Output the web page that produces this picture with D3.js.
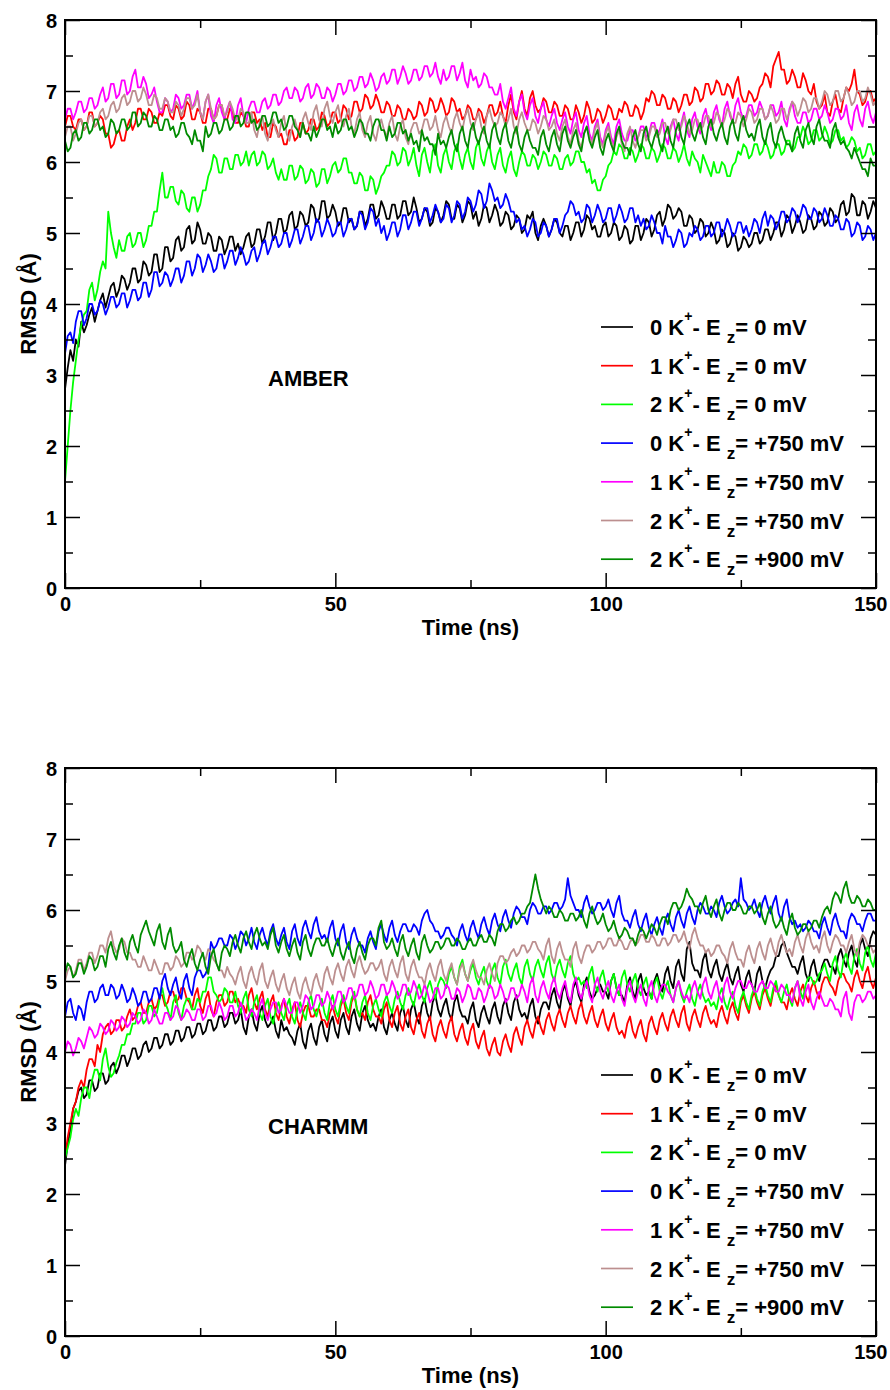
<!DOCTYPE html>
<html>
<head>
<meta charset="utf-8">
<script src="https://cdnjs.cloudflare.com/ajax/libs/d3/7.8.5/d3.min.js"></script>
<style>
body { margin: 0; background: #fff; }
text { font-family: "Liberation Sans", Arial, sans-serif; font-weight: bold; fill: #000; }
</style>
</head>
<body>
<div id="chart"></div>
<script>

// sampling grid (ns, one frame every 0.5 ns) and axis ticks
var timeNs = d3.range(0, 150.5, 0.5);
var xMajor = [0, 50, 100, 150];
var xMinor = [25, 75, 125];
var yMajor = [0, 1, 2, 3, 4, 5, 6, 7, 8];
var yMinor = [0.5, 1.5, 2.5, 3.5, 4.5, 5.5, 6.5, 7.5];

// legend
var ions   = ["0", "1", "2", "0", "1", "2", "2"];
var fields = ["0 mV", "0 mV", "0 mV", "+750 mV", "+750 mV", "+750 mV", "+900 mV"];
var colors = ["#000000", "#ff0000", "#00ff00", "#0000ff", "#ff00ff", "#bc8f8f", "#008b00"];

// ---- AMBER, RMSD (A), one row = 10 ns ----
var amber0K0 = [2.8,3.1,3.35,3.2,3.5,3.4,3.75,3.6,3.7,3.85,3.95,3.75,3.9,4.05,4.15,3.95,4.1,4.25,4.3,4.1,
 4.2,4.4,4.35,4.2,4.3,4.5,4.5,4.3,4.35,4.6,4.55,4.4,4.45,4.7,4.7,4.45,4.5,4.8,4.8,4.6,
 4.65,4.9,4.95,4.75,4.8,5.05,5.1,4.85,4.9,5.15,5.05,4.85,4.85,5.0,4.95,4.75,4.75,4.95,4.9,4.7,
 4.8,4.95,4.95,4.75,4.85,4.7,4.8,4.95,5.0,4.8,4.85,5.05,5.05,4.85,4.95,5.15,5.15,4.9,5.0,5.2,
 5.2,5.0,5.05,5.25,5.3,5.05,5.1,5.3,5.25,5.1,5.15,5.4,5.35,5.15,5.2,5.45,5.45,5.2,5.25,5.4,
 5.3,5.1,5.15,5.35,5.35,5.15,5.2,5.05,5.1,5.3,5.3,5.1,5.2,5.4,5.4,5.2,5.25,5.45,5.35,5.2,
 5.2,5.4,5.4,5.2,5.25,5.45,5.45,5.25,5.3,5.5,5.35,5.15,5.2,5.35,5.3,5.1,5.15,5.35,5.3,5.15,
 5.25,5.45,5.4,5.2,5.2,5.4,5.35,5.15,5.25,5.45,5.4,5.2,5.3,5.1,5.2,5.4,5.35,5.15,5.25,5.4,
 5.3,5.1,5.15,5.3,5.25,5.05,5.1,5.25,5.2,5.0,5.05,5.25,5.2,5.3,5.0,4.9,5.1,5.2,5.1,4.95,
 5.05,5.2,5.15,5.0,4.95,5.1,5.1,4.9,5.0,5.15,5.15,4.95,5.05,5.25,5.2,5.05,5.1,4.95,4.95,5.1,
 5.15,4.95,5.0,5.15,5.1,4.9,4.95,5.1,5.05,4.85,4.9,5.1,5.1,4.9,5.0,5.2,5.15,4.95,5.05,5.25,
 5.3,5.1,5.2,5.4,5.35,5.2,5.25,5.35,5.3,5.1,5.1,5.25,5.2,5.0,5.05,5.2,5.15,4.95,5.0,5.15,
 5.05,4.85,4.9,5.05,5.0,4.8,4.85,5.0,4.95,4.75,4.8,4.95,4.9,4.8,4.85,5.0,5.0,4.85,4.9,5.05,
 5.05,4.9,5.0,5.15,5.15,4.95,5.05,5.25,5.2,5.0,5.1,5.25,5.15,5.0,5.05,5.25,5.2,5.05,5.1,5.3,
 5.25,5.1,5.15,5.35,5.3,5.15,5.2,5.4,5.45,5.25,5.3,5.55,5.5,5.25,5.25,5.45,5.4,5.2,5.3,5.45,5.35];
var amber1K0 = [6.5,6.65,6.65,6.5,6.45,6.6,6.6,6.45,6.5,6.7,6.7,6.5,6.55,6.65,6.6,6.4,6.4,6.2,6.25,6.4,
 6.45,6.3,6.3,6.5,6.6,6.45,6.55,6.75,6.75,6.6,6.6,6.75,6.7,6.55,6.55,6.7,6.65,6.8,6.8,6.65,
 6.6,6.8,6.75,6.6,6.65,6.85,6.8,6.6,6.6,6.75,6.7,6.55,6.55,6.75,6.75,6.6,6.65,6.8,6.8,6.6,
 6.6,6.75,6.7,6.55,6.55,6.7,6.65,6.5,6.5,6.7,6.7,6.55,6.6,6.45,6.55,6.35,6.35,6.55,6.5,6.35,
 6.4,6.25,6.25,6.45,6.45,6.3,6.35,6.55,6.55,6.4,6.45,6.6,6.6,6.45,6.5,6.7,6.65,6.5,6.55,6.7,
 6.7,6.55,6.6,6.8,6.75,6.6,6.65,6.85,6.85,6.7,6.75,6.95,6.9,6.75,6.8,6.95,6.85,6.7,6.7,6.85,
 6.8,6.65,6.65,6.8,6.75,6.6,6.6,6.75,6.7,6.6,6.65,6.85,6.8,6.65,6.7,6.9,6.85,6.7,6.75,6.9,
 6.8,6.65,6.7,6.9,6.85,6.7,6.75,6.6,6.65,6.8,6.75,6.6,6.6,6.75,6.7,6.55,6.65,6.8,6.8,6.65,
 6.7,6.85,6.65,6.55,6.8,6.95,6.7,6.6,6.85,7.0,6.75,6.65,6.9,7.0,6.8,6.7,6.75,6.9,6.85,6.7,
 6.7,6.85,6.8,6.65,6.65,6.8,6.75,6.6,6.6,6.8,6.7,6.55,6.65,6.85,6.75,6.55,6.6,6.75,6.7,6.55,
 6.65,6.8,6.75,6.6,6.6,6.75,6.7,6.85,6.8,6.65,6.65,6.8,6.75,6.6,6.7,6.9,6.85,7.0,6.95,6.8,
 6.8,6.95,6.9,6.75,6.75,6.9,6.85,6.7,6.8,6.95,6.95,6.8,6.85,7.05,7.0,6.85,6.9,7.1,7.1,6.95,
 7.0,7.15,7.1,6.95,6.95,7.1,7.05,6.9,7.1,7.2,6.95,6.85,6.85,7.0,6.95,6.85,6.9,7.05,7.1,7.25,
 7.2,7.05,7.35,7.45,7.55,7.3,7.3,7.1,7.15,7.3,7.2,7.05,7.05,7.25,7.15,7.0,6.95,7.1,6.85,6.75,
 6.8,6.95,6.7,6.65,6.85,6.95,6.75,6.7,6.9,7.05,7.0,7.1,7.3,7.0,6.95,6.8,6.85,7.0,7.0,6.85,6.9];
var amber2K0 = [1.5,2.0,2.5,2.9,3.2,3.5,3.7,3.85,3.9,4.2,4.3,4.05,4.2,4.45,4.6,4.5,5.3,5.0,4.8,4.65,
 4.9,4.75,4.75,4.95,5.0,4.8,4.85,5.0,5.0,4.8,4.9,5.1,5.1,5.3,5.3,5.6,5.85,5.5,5.5,5.65,
 5.65,5.45,5.4,5.6,5.55,5.35,5.3,5.5,5.5,5.3,5.4,5.6,5.6,5.8,5.9,6.1,6.05,5.85,5.85,6.05,
 6.05,5.9,5.9,6.1,6.1,5.95,6.0,6.15,5.95,6.1,6.15,5.95,6.0,6.15,6.1,5.9,5.95,6.05,5.85,5.75,
 5.9,5.75,5.75,5.95,5.95,5.75,5.8,5.95,5.9,5.7,5.75,5.9,5.85,5.65,5.7,5.9,5.9,5.7,5.8,5.95,
 6.0,5.85,5.9,6.05,6.05,5.85,5.85,5.7,5.7,5.85,5.8,5.6,5.6,5.8,5.75,5.55,5.65,5.8,5.85,5.95,
 5.95,6.15,6.1,5.95,6.0,6.2,6.15,5.95,6.05,6.2,5.95,5.8,6.1,6.2,6.0,5.85,6.15,6.25,5.95,5.85,
 6.1,6.2,6.0,5.9,6.15,6.25,6.05,5.9,6.1,6.2,6.0,5.9,6.2,6.3,6.05,5.95,6.15,6.25,6.0,5.9,
 6.1,6.2,5.95,5.85,6.05,6.15,5.9,5.8,6.0,6.15,6.1,5.95,5.95,6.1,6.05,5.9,6.0,6.15,6.1,5.95,
 5.95,6.1,6.05,5.9,5.9,6.05,6.1,5.95,6.0,6.15,6.15,6.0,6.0,5.85,5.9,5.7,5.75,5.6,5.6,5.75,
 5.8,5.95,6.0,6.15,6.1,6.25,6.2,6.05,6.05,6.2,6.15,6.0,6.1,6.25,6.2,6.05,6.05,6.2,6.15,6.0,
 6.1,6.25,6.2,6.05,6.05,6.2,6.15,6.0,6.1,6.25,6.05,5.95,6.15,6.05,6.0,5.85,6.1,6.0,5.9,5.8,
 6.0,5.85,5.85,6.0,5.95,5.8,5.8,5.95,6.0,6.15,6.1,6.25,6.2,6.05,6.1,6.25,6.25,6.1,6.15,6.3,
 6.2,6.05,6.1,6.25,6.25,6.1,6.15,6.3,6.3,6.15,6.2,6.35,6.35,6.5,6.4,6.25,6.3,6.45,6.45,6.3,
 6.35,6.5,6.4,6.25,6.3,6.45,6.45,6.3,6.35,6.2,6.25,6.35,6.3,6.15,6.2,6.05,6.1,6.25,6.25,6.1,6.15];
var amber0K750 = [3.3,3.55,3.6,3.45,3.75,3.9,3.9,3.7,3.8,4.0,4.0,3.85,3.9,4.05,4.0,3.85,3.95,4.1,4.1,3.95,
 4.0,4.15,4.15,3.95,4.05,4.2,4.2,4.05,4.1,4.3,4.3,4.1,4.2,4.45,4.45,4.25,4.3,4.45,4.4,4.25,
 4.35,4.5,4.5,4.3,4.4,4.6,4.6,4.4,4.5,4.7,4.65,4.45,4.55,4.7,4.6,4.45,4.5,4.7,4.7,4.5,
 4.6,4.75,4.75,4.55,4.65,4.8,4.7,4.55,4.6,4.75,4.8,4.6,4.7,4.85,4.9,4.7,4.8,4.95,4.95,4.8,
 4.85,5.0,5.0,4.8,4.9,5.05,5.05,4.85,4.95,5.1,5.1,4.9,5.0,5.2,5.15,4.95,5.05,5.2,5.1,4.95,
 5.0,5.15,5.15,4.95,5.05,5.2,5.2,5.05,5.1,5.3,5.25,5.05,5.15,5.35,5.3,5.1,5.2,5.0,5.1,4.9,
 5.0,5.15,5.15,4.95,5.05,5.25,5.25,5.05,5.15,5.3,5.3,5.1,5.2,5.35,5.35,5.15,5.25,5.4,5.3,5.15,
 5.2,5.4,5.35,5.15,5.25,5.45,5.4,5.2,5.3,5.5,5.45,5.3,5.4,5.6,5.55,5.35,5.45,5.7,5.6,5.45,
 5.5,5.35,5.4,5.55,5.45,5.3,5.3,5.15,5.2,5.05,5.1,4.95,5.05,5.2,5.15,4.95,5.0,5.15,5.1,4.95,
 5.05,5.2,5.2,5.0,5.1,5.25,5.3,5.45,5.4,5.25,5.3,5.15,5.2,5.4,5.35,5.15,5.25,5.4,5.3,5.15,
 5.2,5.35,5.35,5.15,5.25,5.4,5.3,5.15,5.2,5.35,5.35,5.15,5.25,5.1,5.2,5.05,5.1,5.25,5.15,5.0,
 5.0,4.85,5.1,4.95,4.95,4.8,4.9,5.05,5.0,4.8,4.85,5.0,4.95,5.1,5.05,4.9,4.95,5.1,5.1,4.95,
 5.0,5.15,5.15,4.95,5.05,5.2,5.1,4.95,5.0,5.15,5.15,5.0,5.1,4.95,5.05,5.2,5.15,5.0,5.2,5.3,
 5.1,5.25,5.2,5.05,5.15,5.3,5.3,5.15,5.2,5.35,5.3,5.15,5.25,5.4,5.35,5.2,5.2,5.35,5.3,5.15,
 5.2,5.35,5.25,5.1,5.1,5.25,5.2,5.05,5.05,5.2,5.15,4.95,5.0,5.15,5.1,4.9,4.95,5.1,5.05,4.9,5.0];
var amber1K750 = [6.6,6.75,6.75,6.6,6.7,6.85,6.85,6.7,6.75,6.9,6.9,6.75,6.8,6.95,7.05,6.85,6.9,7.1,7.1,6.9,
 6.95,7.15,7.15,6.95,7.0,7.2,7.3,7.05,7.05,7.2,7.1,6.9,6.95,7.05,6.85,6.7,6.7,6.9,6.85,6.7,
 6.75,6.95,6.9,6.75,6.8,6.95,6.95,6.75,6.85,7.0,6.7,6.6,6.85,6.95,6.65,6.55,6.8,6.9,6.7,6.6,
 6.75,6.85,6.6,6.55,6.8,6.9,6.65,6.55,6.75,6.85,6.85,6.7,6.7,6.85,6.9,6.75,6.8,6.95,6.95,6.8,
 6.85,7.0,7.05,6.9,6.9,7.05,7.0,6.85,6.9,7.05,7.1,6.9,6.95,7.1,7.05,6.9,6.9,7.05,7.0,6.85,
 6.95,7.1,7.1,6.95,7.0,7.15,7.15,7.0,7.05,7.2,7.2,7.05,7.1,7.25,7.15,7.0,7.05,7.2,7.25,7.1,
 7.15,7.3,7.3,7.1,7.2,7.35,7.25,7.1,7.15,7.3,7.3,7.15,7.2,7.35,7.35,7.2,7.25,7.4,7.2,7.1,
 7.3,7.15,7.2,7.35,7.35,7.15,7.25,7.4,7.15,7.05,7.3,7.15,7.2,7.05,7.1,7.25,7.2,7.05,7.05,6.95,
 6.95,7.1,6.85,6.75,6.9,7.05,6.75,6.65,6.85,6.95,6.7,6.6,6.8,6.9,6.65,6.55,6.75,6.85,6.6,6.5,
 6.65,6.75,6.55,6.45,6.6,6.7,6.5,6.4,6.6,6.7,6.45,6.35,6.55,6.65,6.4,6.3,6.5,6.6,6.35,6.25,
 6.45,6.55,6.35,6.25,6.5,6.6,6.4,6.3,6.3,6.45,6.45,6.3,6.35,6.5,6.5,6.35,6.4,6.55,6.55,6.4,
 6.45,6.6,6.35,6.25,6.5,6.6,6.4,6.3,6.55,6.7,6.45,6.35,6.6,6.7,6.5,6.4,6.65,6.75,6.55,6.45,
 6.7,6.8,6.6,6.5,6.75,6.85,6.65,6.55,6.8,6.9,6.7,6.6,6.65,6.8,6.8,6.65,6.7,6.85,6.75,6.6,
 6.65,6.8,6.8,6.65,6.7,6.85,6.6,6.5,6.75,6.85,6.65,6.55,6.55,6.7,6.7,6.55,6.6,6.75,6.75,6.6,
 6.65,6.8,6.7,6.55,6.6,6.75,6.75,6.6,6.65,6.8,6.55,6.45,6.7,6.8,6.6,6.5,6.75,6.85,6.65,6.55,6.7];
var amber2K750 = [6.35,6.5,6.5,6.3,6.4,6.55,6.6,6.45,6.5,6.65,6.65,6.5,6.55,6.7,6.75,6.6,6.65,6.8,6.85,6.7,
 6.75,6.9,6.95,6.8,6.85,7.0,7.0,6.85,6.9,7.05,6.95,6.8,6.8,6.95,6.9,6.75,6.75,6.9,6.85,6.7,
 6.7,6.85,6.8,6.65,6.75,6.9,6.9,6.75,6.8,6.95,6.7,6.6,6.85,6.95,6.75,6.6,6.65,6.8,6.8,6.65,
 6.7,6.85,6.75,6.6,6.6,6.75,6.7,6.55,6.55,6.7,6.45,6.35,6.55,6.65,6.4,6.3,6.5,6.6,6.45,6.35,
 6.55,6.65,6.4,6.3,6.5,6.6,6.45,6.35,6.6,6.7,6.55,6.45,6.7,6.8,6.6,6.5,6.75,6.85,6.65,6.55,
 6.7,6.8,6.6,6.5,6.65,6.75,6.5,6.4,6.6,6.7,6.45,6.35,6.55,6.65,6.4,6.3,6.5,6.6,6.45,6.35,
 6.55,6.65,6.4,6.3,6.5,6.6,6.35,6.25,6.45,6.55,6.55,6.4,6.45,6.6,6.6,6.45,6.5,6.65,6.45,6.35,
 6.55,6.65,6.5,6.4,6.6,6.7,6.55,6.45,6.65,6.75,6.55,6.45,6.6,6.7,6.5,6.4,6.65,6.75,6.6,6.5,
 6.55,6.7,6.65,6.5,6.6,6.75,6.5,6.4,6.6,6.7,6.55,6.45,6.45,6.6,6.55,6.4,6.5,6.65,6.6,6.45,
 6.5,6.6,6.4,6.3,6.5,6.6,6.35,6.25,6.45,6.55,6.3,6.2,6.4,6.5,6.35,6.25,6.45,6.55,6.3,6.2,
 6.4,6.5,6.3,6.2,6.35,6.45,6.25,6.15,6.4,6.5,6.3,6.2,6.35,6.45,6.45,6.3,6.35,6.5,6.5,6.35,
 6.4,6.55,6.55,6.4,6.45,6.6,6.6,6.45,6.5,6.65,6.55,6.4,6.45,6.6,6.6,6.45,6.5,6.65,6.65,6.5,
 6.55,6.7,6.65,6.5,6.6,6.75,6.7,6.55,6.55,6.7,6.65,6.5,6.6,6.75,6.7,6.55,6.6,6.75,6.75,6.6,
 6.65,6.8,6.7,6.55,6.6,6.75,6.75,6.6,6.7,6.85,6.8,6.65,6.75,6.9,6.85,6.7,6.75,6.9,6.9,6.75,
 6.85,7.0,6.95,6.8,6.85,7.0,7.0,6.85,6.9,7.05,6.95,6.8,6.85,7.0,7.0,6.85,6.9,7.05,6.95,6.8,6.85];
var amber2K900 = [6.3,6.15,6.2,6.4,6.45,6.3,6.35,6.55,6.55,6.4,6.45,6.6,6.6,6.45,6.5,6.35,6.4,6.6,6.55,6.4,
 6.45,6.6,6.6,6.45,6.5,6.7,6.7,6.5,6.55,6.7,6.65,6.5,6.5,6.65,6.6,6.45,6.45,6.6,6.6,6.45,
 6.5,6.35,6.4,6.55,6.55,6.4,6.35,6.25,6.45,6.3,6.3,6.15,6.5,6.35,6.4,6.55,6.55,6.4,6.45,6.6,
 6.6,6.45,6.5,6.65,6.65,6.5,6.55,6.7,6.7,6.55,6.6,6.45,6.5,6.65,6.65,6.5,6.55,6.7,6.7,6.55,
 6.6,6.45,6.5,6.65,6.65,6.5,6.45,6.35,6.55,6.4,6.4,6.3,6.5,6.35,6.45,6.6,6.6,6.45,6.5,6.35,
 6.55,6.4,6.45,6.6,6.6,6.45,6.5,6.35,6.45,6.6,6.55,6.4,6.4,6.3,6.5,6.6,6.6,6.45,6.45,6.3,
 6.5,6.35,6.4,6.55,6.55,6.4,6.45,6.3,6.4,6.25,6.3,6.15,6.45,6.3,6.35,6.25,6.25,6.1,6.4,6.25,
 6.3,6.2,6.35,6.45,6.25,6.15,6.4,6.5,6.3,6.2,6.45,6.55,6.35,6.25,6.4,6.5,6.3,6.2,6.45,6.55,
 6.35,6.25,6.45,6.55,6.3,6.2,6.4,6.5,6.25,6.15,6.35,6.45,6.3,6.2,6.2,6.1,6.35,6.45,6.25,6.15,
 6.35,6.45,6.25,6.15,6.4,6.5,6.3,6.2,6.35,6.45,6.25,6.15,6.4,6.5,6.3,6.2,6.35,6.45,6.2,6.1,
 6.3,6.4,6.25,6.15,6.4,6.5,6.3,6.2,6.2,6.1,6.35,6.45,6.25,6.15,6.4,6.5,6.3,6.2,6.35,6.45,
 6.25,6.15,6.4,6.5,6.3,6.2,6.45,6.55,6.35,6.25,6.5,6.6,6.4,6.3,6.45,6.55,6.35,6.25,6.5,6.6,
 6.4,6.3,6.45,6.55,6.35,6.25,6.5,6.6,6.4,6.3,6.55,6.65,6.45,6.35,6.4,6.3,6.5,6.6,6.35,6.25,
 6.45,6.55,6.3,6.2,6.4,6.5,6.35,6.25,6.25,6.15,6.4,6.5,6.3,6.2,6.45,6.55,6.35,6.25,6.5,6.6,
 6.4,6.3,6.3,6.2,6.45,6.55,6.35,6.25,6.3,6.2,6.15,6.05,6.2,6.1,6.0,5.9,5.9,5.8,6.05,5.95,5.95];

// ---- CHARMM, RMSD (A), one row = 10 ns ----
var charmm0K0 = [2.4,2.7,2.9,3.2,3.3,3.45,3.5,3.35,3.4,3.6,3.6,3.45,3.5,3.7,3.7,3.55,3.6,3.8,3.85,3.7,
 3.8,3.95,3.95,3.8,3.9,4.05,4.05,3.9,3.95,4.1,4.15,4.0,4.05,4.2,4.2,4.05,4.1,4.25,4.25,4.1,
 4.15,4.3,4.3,4.15,4.2,4.35,4.35,4.2,4.25,4.4,4.4,4.25,4.3,4.45,4.45,4.3,4.35,4.5,4.5,4.35,
 4.4,4.55,4.55,4.4,4.45,4.6,4.35,4.25,4.5,4.6,4.4,4.3,4.55,4.65,4.45,4.35,4.4,4.5,4.3,4.2,
 4.45,4.3,4.35,4.25,4.2,4.1,4.3,4.4,4.15,4.05,4.3,4.4,4.2,4.1,4.35,4.45,4.25,4.15,4.4,4.5,
 4.3,4.2,4.45,4.55,4.35,4.25,4.5,4.6,4.4,4.3,4.55,4.65,4.45,4.35,4.4,4.3,4.5,4.6,4.35,4.25,
 4.45,4.55,4.4,4.3,4.55,4.65,4.45,4.35,4.6,4.7,4.5,4.4,4.65,4.75,4.55,4.45,4.7,4.8,4.6,4.5,
 4.65,4.75,4.55,4.45,4.7,4.8,4.6,4.5,4.5,4.4,4.6,4.7,4.45,4.35,4.55,4.65,4.5,4.4,4.6,4.7,
 4.5,4.4,4.65,4.75,4.55,4.45,4.7,4.8,4.6,4.5,4.55,4.45,4.65,4.75,4.5,4.4,4.6,4.7,4.7,4.6,
 4.8,4.9,4.7,4.6,4.85,4.95,4.75,4.65,4.9,5.0,4.8,4.7,4.95,5.05,4.85,4.75,4.8,4.9,4.95,4.85,
 4.85,4.75,5.0,5.1,4.9,4.8,4.8,4.7,4.95,5.05,4.85,4.75,5.0,5.1,4.9,4.8,4.85,4.75,5.0,5.1,
 4.95,4.85,5.1,5.2,5.0,4.9,5.2,5.3,5.1,5.0,5.45,5.55,5.25,5.15,5.15,5.05,5.3,5.4,5.15,5.05,
 5.2,5.3,5.1,5.0,5.15,5.25,5.05,4.95,5.1,5.2,4.95,4.85,5.05,5.15,4.95,4.85,5.1,5.2,5.0,4.9,
 5.05,5.15,5.2,5.35,5.35,5.5,5.55,5.4,5.3,5.2,5.2,5.1,5.25,5.35,5.1,5.0,5.2,5.3,5.1,5.0,
 5.2,5.3,5.3,5.2,5.2,5.1,5.35,5.45,5.3,5.2,5.4,5.5,5.3,5.2,5.5,5.6,5.45,5.35,5.6,5.7,5.65];
var charmm1K0 = [2.5,2.8,3.0,3.2,3.3,3.5,3.6,3.5,3.75,3.9,3.9,3.8,4.1,4.0,4.25,4.35,4.4,4.25,4.3,4.45,
 4.45,4.3,4.35,4.5,4.6,4.45,4.5,4.65,4.7,4.55,4.55,4.7,4.75,4.6,4.65,4.8,4.8,4.65,4.7,4.85,
 4.85,4.7,4.75,4.9,4.9,4.75,4.7,4.6,4.8,4.9,4.65,4.55,4.75,4.85,4.6,4.5,4.7,4.8,4.8,4.65,
 4.7,4.85,4.85,4.7,4.75,4.65,4.65,4.55,4.8,4.9,4.7,4.6,4.75,4.85,4.6,4.5,4.7,4.8,4.55,4.45,
 4.65,4.75,4.5,4.4,4.6,4.7,4.45,4.35,4.55,4.65,4.65,4.5,4.5,4.6,4.6,4.45,4.45,4.35,4.55,4.65,
 4.5,4.4,4.65,4.75,4.55,4.45,4.7,4.8,4.6,4.5,4.55,4.45,4.7,4.8,4.6,4.5,4.5,4.4,4.6,4.7,
 4.45,4.35,4.55,4.65,4.4,4.3,4.5,4.6,4.35,4.25,4.45,4.55,4.3,4.2,4.4,4.5,4.25,4.15,4.35,4.45,
 4.3,4.2,4.4,4.5,4.25,4.15,4.3,4.4,4.2,4.1,4.3,4.4,4.15,4.05,4.2,4.3,4.05,3.95,4.1,4.2,
 4.0,3.95,4.15,4.25,4.1,4.0,4.25,4.35,4.2,4.1,4.35,4.45,4.3,4.2,4.4,4.5,4.35,4.25,4.45,4.55,
 4.4,4.3,4.5,4.6,4.45,4.35,4.55,4.65,4.5,4.4,4.6,4.7,4.5,4.4,4.55,4.65,4.45,4.35,4.5,4.6,
 4.4,4.3,4.45,4.55,4.35,4.25,4.3,4.2,4.4,4.5,4.3,4.2,4.35,4.45,4.25,4.15,4.4,4.5,4.35,4.25,
 4.45,4.55,4.4,4.3,4.5,4.6,4.45,4.35,4.55,4.65,4.4,4.3,4.5,4.6,4.45,4.35,4.55,4.65,4.5,4.4,
 4.45,4.35,4.55,4.65,4.5,4.4,4.6,4.7,4.55,4.45,4.7,4.8,4.65,4.55,4.75,4.85,4.7,4.6,4.8,4.9,
 4.75,4.65,4.85,4.95,4.8,4.7,4.7,4.6,4.8,4.9,4.75,4.65,4.85,4.95,4.8,4.7,4.9,5.0,4.85,4.75,
 4.95,5.05,5.05,4.95,4.9,4.8,5.0,5.1,5.1,5.0,4.95,4.85,5.05,5.15,5.0,4.9,5.1,5.2,5.0,4.9,5.05];
var charmm2K0 = [2.5,2.65,2.8,3.05,3.2,3.1,3.35,3.5,3.5,3.35,3.6,3.75,3.75,3.6,3.9,4.05,3.8,3.65,3.7,3.85,
 3.95,4.1,4.1,4.25,4.25,4.4,4.4,4.55,4.55,4.4,4.45,4.65,4.65,4.5,4.55,4.75,4.9,4.7,4.6,4.45,
 4.7,4.8,4.55,4.45,4.65,4.75,4.75,4.6,4.6,4.75,4.7,4.85,4.85,5.05,5.05,4.85,4.8,4.7,4.75,4.9,
 4.85,4.7,4.7,4.85,4.65,4.55,4.75,4.85,4.6,4.5,4.7,4.8,4.55,4.45,4.65,4.75,4.5,4.4,4.6,4.7,
 4.55,4.45,4.65,4.75,4.5,4.4,4.6,4.7,4.55,4.45,4.7,4.8,4.6,4.5,4.65,4.75,4.55,4.45,4.7,4.8,
 4.6,4.5,4.7,4.8,4.65,4.55,4.75,4.85,4.6,4.5,4.7,4.8,4.55,4.45,4.65,4.75,4.6,4.5,4.7,4.8,
 4.65,4.55,4.75,4.85,4.7,4.6,4.8,4.9,4.75,4.65,4.85,4.95,4.8,4.7,4.9,5.0,4.85,4.75,4.95,5.05,
 5.0,4.9,5.1,5.2,5.05,4.95,5.2,5.3,5.1,5.0,5.15,5.25,5.05,4.95,5.1,5.2,5.0,4.9,5.15,5.25,
 5.05,4.95,5.2,5.3,5.1,5.0,5.15,5.25,5.05,4.95,5.2,5.3,5.1,5.0,5.2,5.3,5.15,5.05,5.25,5.35,
 5.1,5.0,5.2,5.3,5.15,5.05,5.25,5.35,5.1,5.0,5.05,4.95,5.0,4.9,5.1,5.2,4.95,4.85,5.05,5.15,
 4.95,4.85,5.0,5.1,4.9,4.8,5.05,5.15,4.95,4.85,5.0,5.1,4.9,4.8,4.95,5.05,4.85,4.75,4.95,5.05,
 4.85,4.75,4.9,5.0,4.8,4.7,4.9,5.0,4.8,4.7,4.85,4.95,4.75,4.65,4.85,4.95,4.8,4.7,4.75,4.65,
 4.7,4.6,4.8,4.9,4.7,4.6,4.75,4.85,4.65,4.55,4.75,4.85,4.7,4.6,4.8,4.9,4.75,4.65,4.85,4.95,
 4.8,4.7,4.9,5.0,4.8,4.7,4.85,4.95,4.75,4.65,4.9,5.0,4.85,4.75,4.95,5.05,5.05,4.95,5.0,5.1,
 5.15,5.25,5.1,5.0,5.25,5.35,5.15,5.05,5.3,5.4,5.2,5.1,5.35,5.45,5.25,5.15,5.4,5.5,5.3,5.2,5.4];
var charmm0K750 = [4.5,4.7,4.75,4.55,4.45,4.65,4.6,4.45,4.7,4.85,4.85,4.7,4.75,4.9,4.95,4.8,4.8,4.95,4.9,4.75,
 4.8,4.95,4.85,4.7,4.75,4.9,4.8,4.65,4.7,4.85,4.85,4.7,4.75,4.9,4.9,4.75,5.0,5.1,4.9,4.8,
 4.95,5.05,4.85,4.75,5.0,5.1,4.9,4.8,5.05,5.15,5.15,5.05,5.1,5.2,5.55,5.45,5.5,5.6,5.6,5.5,
 5.5,5.65,5.6,5.45,5.55,5.7,5.65,5.5,5.6,5.75,5.55,5.45,5.65,5.75,5.6,5.5,5.7,5.8,5.6,5.5,
 5.65,5.75,5.55,5.45,5.7,5.8,5.6,5.5,5.75,5.85,5.7,5.6,5.8,5.9,5.7,5.6,5.65,5.55,5.75,5.85,
 5.6,5.5,5.7,5.8,5.55,5.45,5.65,5.75,5.6,5.5,5.5,5.4,5.6,5.7,5.55,5.45,5.7,5.8,5.65,5.55,
 5.75,5.85,5.65,5.55,5.7,5.8,5.8,5.7,5.7,5.8,5.75,5.65,5.85,5.95,6.0,5.85,5.8,5.7,5.7,5.6,
 5.65,5.75,5.75,5.65,5.6,5.5,5.7,5.8,5.65,5.55,5.75,5.85,5.7,5.6,5.8,5.9,5.75,5.65,5.85,5.95,
 5.8,5.7,5.9,6.0,5.85,5.75,5.95,6.05,6.0,5.9,5.9,5.8,6.0,6.1,6.05,5.95,5.95,6.05,6.05,5.95,
 6.0,6.1,6.1,6.0,6.05,6.15,6.45,6.2,6.1,6.0,6.0,5.9,6.1,6.2,6.05,5.95,6.0,6.1,6.1,6.0,
 6.05,6.15,6.0,5.9,6.1,6.2,5.95,5.85,5.85,5.75,5.9,6.0,5.8,5.7,5.85,5.95,5.75,5.65,5.8,5.9,
 5.75,5.65,5.85,5.95,5.8,5.7,5.9,6.0,5.85,5.75,5.95,6.05,5.9,5.8,6.0,6.1,6.05,5.95,5.95,6.05,
 6.0,5.9,6.1,6.2,6.05,5.95,6.0,6.1,6.15,6.05,6.45,6.15,6.1,6.0,6.05,6.15,6.0,5.9,6.1,6.2,
 6.05,5.95,6.1,6.2,5.95,5.85,6.05,6.15,5.9,5.8,5.85,5.75,5.8,5.7,5.75,5.85,5.8,5.7,5.7,5.6,
 5.8,5.9,5.75,5.65,5.85,5.95,5.8,5.7,5.7,5.6,5.85,5.95,5.9,5.8,5.8,5.7,5.85,5.95,5.95,5.85,5.85];
var charmm1K750 = [4.0,4.15,4.1,3.95,4.05,4.2,4.15,4.05,4.2,4.35,4.3,4.2,4.25,4.4,4.35,4.25,4.3,4.45,4.4,4.3,
 4.35,4.5,4.45,4.35,4.4,4.55,4.5,4.4,4.45,4.6,4.55,4.4,4.45,4.6,4.5,4.4,4.4,4.55,4.55,4.45,
 4.5,4.65,4.6,4.45,4.5,4.6,4.55,4.45,4.45,4.6,4.6,4.45,4.5,4.65,4.65,4.5,4.55,4.7,4.6,4.45,
 4.5,4.65,4.65,4.5,4.55,4.7,4.6,4.45,4.5,4.6,4.55,4.45,4.65,4.75,4.55,4.45,4.6,4.7,4.7,4.55,
 4.6,4.75,4.65,4.55,4.55,4.7,4.7,4.55,4.65,4.8,4.75,4.6,4.65,4.8,4.8,4.65,4.7,4.85,4.75,4.6,
 4.7,4.85,4.85,4.7,4.75,4.9,4.9,4.75,4.8,4.95,4.95,4.8,4.85,5.0,4.9,4.75,4.8,4.95,4.95,4.8,
 4.85,5.0,4.9,4.75,4.8,4.95,4.95,4.8,4.85,5.0,4.9,4.75,4.8,4.95,4.85,4.7,4.75,4.9,4.9,4.75,
 4.8,4.95,4.9,4.75,4.75,4.9,4.85,4.7,4.8,4.95,4.9,4.75,4.75,4.9,4.85,4.7,4.8,4.95,4.9,4.75,
 4.8,4.95,4.85,4.7,4.75,4.9,4.9,4.75,4.8,4.95,4.85,4.7,4.95,5.05,4.8,4.7,4.9,5.0,4.85,4.75,
 4.95,5.05,4.85,4.75,4.9,5.0,4.8,4.7,4.95,5.05,4.85,4.75,4.9,5.0,4.8,4.7,4.95,5.05,4.85,4.75,
 4.9,5.0,4.8,4.7,4.85,4.95,4.75,4.65,4.9,5.0,4.8,4.7,4.85,4.95,4.75,4.65,4.9,5.0,4.8,4.7,
 4.85,4.95,4.95,4.85,4.8,4.7,4.9,5.0,4.85,4.75,4.8,4.7,4.9,5.0,4.85,4.75,4.95,5.05,4.85,4.75,
 4.9,5.0,4.8,4.7,4.95,5.05,4.85,4.75,4.9,5.0,5.0,4.9,4.9,5.0,4.95,4.85,4.85,4.95,5.0,4.9,
 4.9,5.0,4.95,4.85,4.85,4.95,4.9,4.8,4.8,4.7,4.9,5.0,4.75,4.65,4.85,4.95,4.7,4.6,4.75,4.85,
 4.75,4.65,4.65,4.75,4.7,4.6,4.6,4.5,4.75,4.85,4.55,4.45,4.7,4.8,4.8,4.7,4.75,4.85,4.85,4.75,4.8];
var charmm2K750 = [5.0,5.15,5.2,5.05,5.15,5.3,5.3,5.15,5.25,5.4,5.4,5.25,5.35,5.5,5.5,5.4,5.6,5.7,5.5,5.4,
 5.45,5.6,5.55,5.4,5.4,5.3,5.3,5.2,5.2,5.35,5.25,5.15,5.15,5.3,5.2,5.1,5.1,5.25,5.25,5.15,
 5.2,5.35,5.3,5.2,5.25,5.4,5.4,5.3,5.35,5.5,5.45,5.35,5.3,5.45,5.4,5.3,5.25,5.15,5.15,5.05,
 5.2,5.1,5.05,4.95,5.1,5.2,5.0,4.9,5.1,5.2,5.05,4.95,5.15,5.25,5.0,4.9,5.05,5.15,4.95,4.85,
 5.0,5.1,4.9,4.8,4.95,5.05,4.85,4.75,4.95,5.05,4.9,4.8,5.0,5.1,4.95,4.85,5.1,5.2,5.05,4.95,
 5.15,5.25,5.1,5.0,5.2,5.3,5.15,5.05,5.25,5.35,5.2,5.1,5.15,5.25,5.25,5.15,5.2,5.3,5.1,5.0,
 5.2,5.3,5.15,5.05,5.25,5.35,5.1,5.0,5.2,5.3,5.15,5.05,5.05,4.95,5.15,5.25,5.1,5.0,5.2,5.3,
 5.1,5.0,5.15,5.25,5.05,4.95,5.15,5.25,5.1,5.0,5.2,5.3,5.15,5.05,5.05,4.95,5.15,5.25,5.1,5.0,
 5.25,5.35,5.35,5.25,5.3,5.4,5.45,5.35,5.4,5.5,5.5,5.4,5.45,5.55,5.55,5.45,5.4,5.3,5.5,5.6,
 5.35,5.25,5.45,5.55,5.4,5.3,5.3,5.2,5.45,5.55,5.35,5.25,5.4,5.5,5.5,5.4,5.45,5.55,5.55,5.45,
 5.5,5.6,5.6,5.5,5.5,5.6,5.55,5.45,5.45,5.55,5.6,5.5,5.55,5.65,5.65,5.55,5.55,5.65,5.6,5.5,
 5.5,5.6,5.6,5.5,5.55,5.65,5.65,5.55,5.6,5.7,5.55,5.45,5.65,5.75,5.6,5.5,5.5,5.4,5.45,5.35,
 5.4,5.5,5.5,5.4,5.35,5.25,5.45,5.55,5.4,5.3,5.3,5.2,5.4,5.5,5.35,5.25,5.45,5.55,5.4,5.3,
 5.5,5.6,5.45,5.35,5.55,5.65,5.5,5.4,5.45,5.35,5.55,5.65,5.5,5.4,5.6,5.7,5.55,5.45,5.5,5.4,
 5.6,5.7,5.5,5.4,5.55,5.65,5.6,5.5,5.5,5.4,5.55,5.65,5.45,5.35,5.55,5.65,5.6,5.5,5.5,5.4,5.45];
var charmm2K900 = [5.1,5.25,5.2,5.05,5.1,5.25,5.25,5.1,5.2,5.35,5.3,5.15,5.2,5.35,5.35,5.2,5.45,5.55,5.4,5.3,
 5.5,5.6,5.4,5.3,5.55,5.65,5.5,5.4,5.65,5.75,5.85,5.7,5.6,5.5,5.7,5.8,5.55,5.45,5.65,5.75,
 5.5,5.4,5.45,5.55,5.3,5.2,5.35,5.45,5.25,5.15,5.3,5.4,5.2,5.1,5.35,5.45,5.25,5.15,5.4,5.5,
 5.45,5.35,5.55,5.65,5.5,5.4,5.6,5.7,5.55,5.45,5.65,5.75,5.6,5.5,5.55,5.45,5.65,5.75,5.5,5.4,
 5.55,5.65,5.45,5.35,5.5,5.6,5.4,5.3,5.55,5.65,5.45,5.35,5.5,5.6,5.6,5.5,5.5,5.6,5.45,5.35,
 5.5,5.6,5.4,5.3,5.45,5.55,5.35,5.25,5.45,5.55,5.4,5.3,5.5,5.6,5.6,5.5,5.75,5.85,5.55,5.45,
 5.5,5.6,5.45,5.35,5.55,5.65,5.45,5.35,5.5,5.6,5.4,5.3,5.55,5.65,5.5,5.4,5.45,5.55,5.55,5.45,
 5.5,5.6,5.6,5.5,5.5,5.6,5.55,5.45,5.45,5.55,5.6,5.5,5.5,5.6,5.65,5.55,5.55,5.65,5.6,5.5,
 5.7,5.8,5.8,5.7,5.75,5.85,5.9,5.8,5.85,5.95,5.95,6.05,6.1,6.3,6.5,6.3,6.15,6.05,5.95,6.05,
 6.0,5.9,5.9,6.0,5.95,5.85,5.85,5.95,5.95,5.85,5.9,6.0,5.85,5.75,5.95,6.05,5.9,5.8,5.85,5.95,
 5.8,5.7,5.75,5.85,5.7,5.6,5.65,5.75,5.7,5.6,5.6,5.5,5.65,5.75,5.7,5.6,5.7,5.8,5.75,5.65,
 5.8,5.9,5.9,5.8,6.0,6.1,6.1,6.0,6.05,6.15,6.3,6.2,6.15,6.05,6.05,5.95,6.1,6.2,6.0,5.9,
 6.05,6.15,5.95,5.85,6.0,6.1,6.1,6.0,6.0,6.1,6.05,5.95,5.95,6.05,6.05,5.95,6.0,6.1,5.9,5.8,
 5.95,6.05,5.85,5.75,5.8,5.9,5.75,5.65,5.85,5.95,5.75,5.65,5.7,5.8,5.8,5.7,5.75,5.85,5.85,5.75,
 5.9,6.0,6.05,5.95,6.15,6.25,6.2,6.1,6.3,6.4,6.2,6.1,6.1,6.2,6.15,6.05,6.05,6.15,6.1,6.0,6.0];

var amberSeries  = [amber0K0, amber1K0, amber2K0, amber0K750, amber1K750, amber2K750, amber2K900];
var charmmSeries = [charmm0K0, charmm1K0, charmm2K0, charmm0K750, charmm1K750, charmm2K750, charmm2K900];

var width = 890, height = 1390;
var left = 65, right = 876, plotH = 568;

var svg = d3.select("#chart")
  .append("svg")
    .attr("width", width)
    .attr("height", height);

var x = d3.scaleLinear()
  .domain([0, 150])
  .range([left, right]);

function drawPanel(top, series, label, id) {
  var y = d3.scaleLinear()
    .domain([0, 8])
    .range([top + plotH, top]);

  svg.append("clipPath")
      .attr("id", id)
    .append("rect")
      .attr("x", left)
      .attr("y", top)
      .attr("width", right - left)
      .attr("height", plotH);

  var line = d3.line()
    .defined(function(d, i) { return i < timeNs.length; })
    .x(function(d, i) { return x(timeNs[i]); })
    .y(function(d) { return y(d); });

  var lines = svg.append("g").attr("clip-path", "url(#" + id + ")");
  series.forEach(function(s, k) {
    lines.append("path")
      .datum(s)
      .attr("d", line)
      .attr("fill", "none")
      .attr("stroke", colors[k])
      .attr("stroke-width", 1.8)
      .attr("stroke-linejoin", "round");
  });

  // axes, ticks pointing inward
  var bottom = svg.append("g")
    .attr("transform", "translate(0," + (top + plotH) + ")")
    .call(d3.axisBottom(x).tickValues(xMajor).tickSize(-15).tickPadding(9));
  svg.append("g")
    .attr("transform", "translate(0," + (top + plotH) + ")")
    .call(d3.axisBottom(x).tickValues(xMinor).tickSize(-8).tickFormat(""));
  svg.append("g")
    .attr("transform", "translate(0," + top + ")")
    .call(d3.axisTop(x).tickValues(xMajor).tickSize(-15).tickFormat(""));
  svg.append("g")
    .attr("transform", "translate(0," + top + ")")
    .call(d3.axisTop(x).tickValues(xMinor).tickSize(-8).tickFormat(""));

  var leftAx = svg.append("g")
    .attr("transform", "translate(" + left + ",0)")
    .call(d3.axisLeft(y).tickValues(yMajor).tickSize(-15).tickPadding(8));
  svg.append("g")
    .attr("transform", "translate(" + left + ",0)")
    .call(d3.axisLeft(y).tickValues(yMinor).tickSize(-8).tickFormat(""));
  svg.append("g")
    .attr("transform", "translate(" + right + ",0)")
    .call(d3.axisRight(y).tickValues(yMajor).tickSize(-15).tickFormat(""));
  svg.append("g")
    .attr("transform", "translate(" + right + ",0)")
    .call(d3.axisRight(y).tickValues(yMinor).tickSize(-8).tickFormat(""));

  svg.selectAll(".domain").remove();
  svg.selectAll(".tick line").attr("stroke", "#000").attr("stroke-width", 1.5);
  bottom.selectAll("text").attr("font-size", 20).attr("font-family", null);
  // last label sits inside the page edge, as in the original
  bottom.selectAll(".tick text")
    .filter(function(d) { return d === 150; })
    .attr("text-anchor", "end")
    .attr("x", 11);
  leftAx.selectAll("text").attr("font-size", 20).attr("font-family", null).attr("dy", "0.36em");

  // frame
  svg.append("rect")
    .attr("x", left)
    .attr("y", top)
    .attr("width", right - left)
    .attr("height", plotH)
    .attr("fill", "none")
    .attr("stroke", "#000")
    .attr("stroke-width", 2);

  // axis titles
  svg.append("text")
    .attr("x", (left + right) / 2)
    .attr("y", top + plotH + 47)
    .attr("text-anchor", "middle")
    .attr("font-size", 22)
    .text("Time (ns)");
  svg.append("text")
    .attr("transform", "translate(36," + (top + plotH / 2) + ") rotate(-90)")
    .attr("text-anchor", "middle")
    .attr("font-size", 22)
    .text("RMSD (Å)");

  svg.append("text")
    .attr("x", 268)
    .attr("y", top + 366)
    .attr("font-size", 22)
    .text(label);

  // legend
  ions.forEach(function(ion, k) {
    var ly = top + 307 + k * 38.7;
    svg.append("line")
      .attr("x1", 601).attr("x2", 633)
      .attr("y1", ly).attr("y2", ly)
      .attr("stroke", colors[k])
      .attr("stroke-width", 1.7);
    var t = svg.append("text")
      .attr("x", 650)
      .attr("y", ly + 8)
      .attr("font-size", 22);
    t.append("tspan").text(ion + " K");
    t.append("tspan").attr("font-size", 14).attr("dy", -14).text("+");
    t.append("tspan").attr("dy", 14).text("- E ");
    t.append("tspan").attr("font-size", 17).attr("dy", 8).text("z");
    t.append("tspan").attr("dy", -8).text("= " + fields[k]);
  });
}

drawPanel(20, amberSeries, "AMBER", "clipA");
drawPanel(768, charmmSeries, "CHARMM", "clipC");

</script>
</body>
</html>
